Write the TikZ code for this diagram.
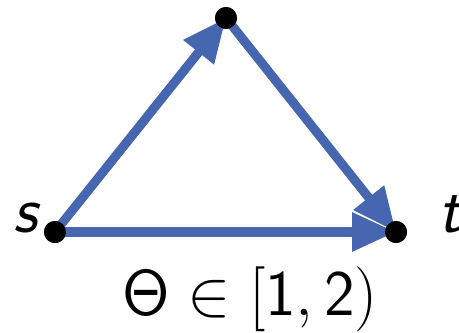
\RequirePackage{fix-cm}
\documentclass[tikz,border=0pt]{standalone}
\usepackage{amsmath,amssymb}
\usepackage{tikz}
\usetikzlibrary{arrows.meta,positioning}
\definecolor{edgeblue}{RGB}{71,102,176}
\newcommand{\capfont}{\fontsize{37}{42}\selectfont}
\newcommand{\lblfont}{\fontsize{38}{42}\selectfont}

\begin{document}
\begin{tikzpicture}[x=0.02cm,y=-0.02cm,>={Triangle[length=25pt,width=21pt]},
  vtx/.style={circle,fill=black,inner sep=0pt,minimum size=0.44cm},
  arc/.style={->,line width=5.2pt,draw=edgeblue,fill=edgeblue}]
\useasboundingbox (0,0) rectangle (459,332);
% vertices
\node[vtx] (s) at (55,232) {};
\node[vtx] (m) at (226,18) {};
\node[vtx] (t) at (396,232) {};
% arcs
\draw[arc] (s.center) -- (m.center);
\draw[arc] (m.center) -- (t.center);
\draw[arc] (s.center) -- (t.center);
\node[vtx] at (s) {}; \node[vtx] at (m) {}; \node[vtx] at (t) {};
% labels
\node[anchor=base,inner sep=0pt] (ls) at (26,232) {\lblfont\sffamily\itshape s};
\node[anchor=base,inner sep=0pt] (lt) at (450,232) {\lblfont\sffamily\itshape t};
\node[anchor=base,inner sep=0pt] (cap) at (250,315) {\capfont$\mathsf{\Theta}\in[\mathsf{1},\mathsf{2})$};
\end{tikzpicture}
\end{document}
